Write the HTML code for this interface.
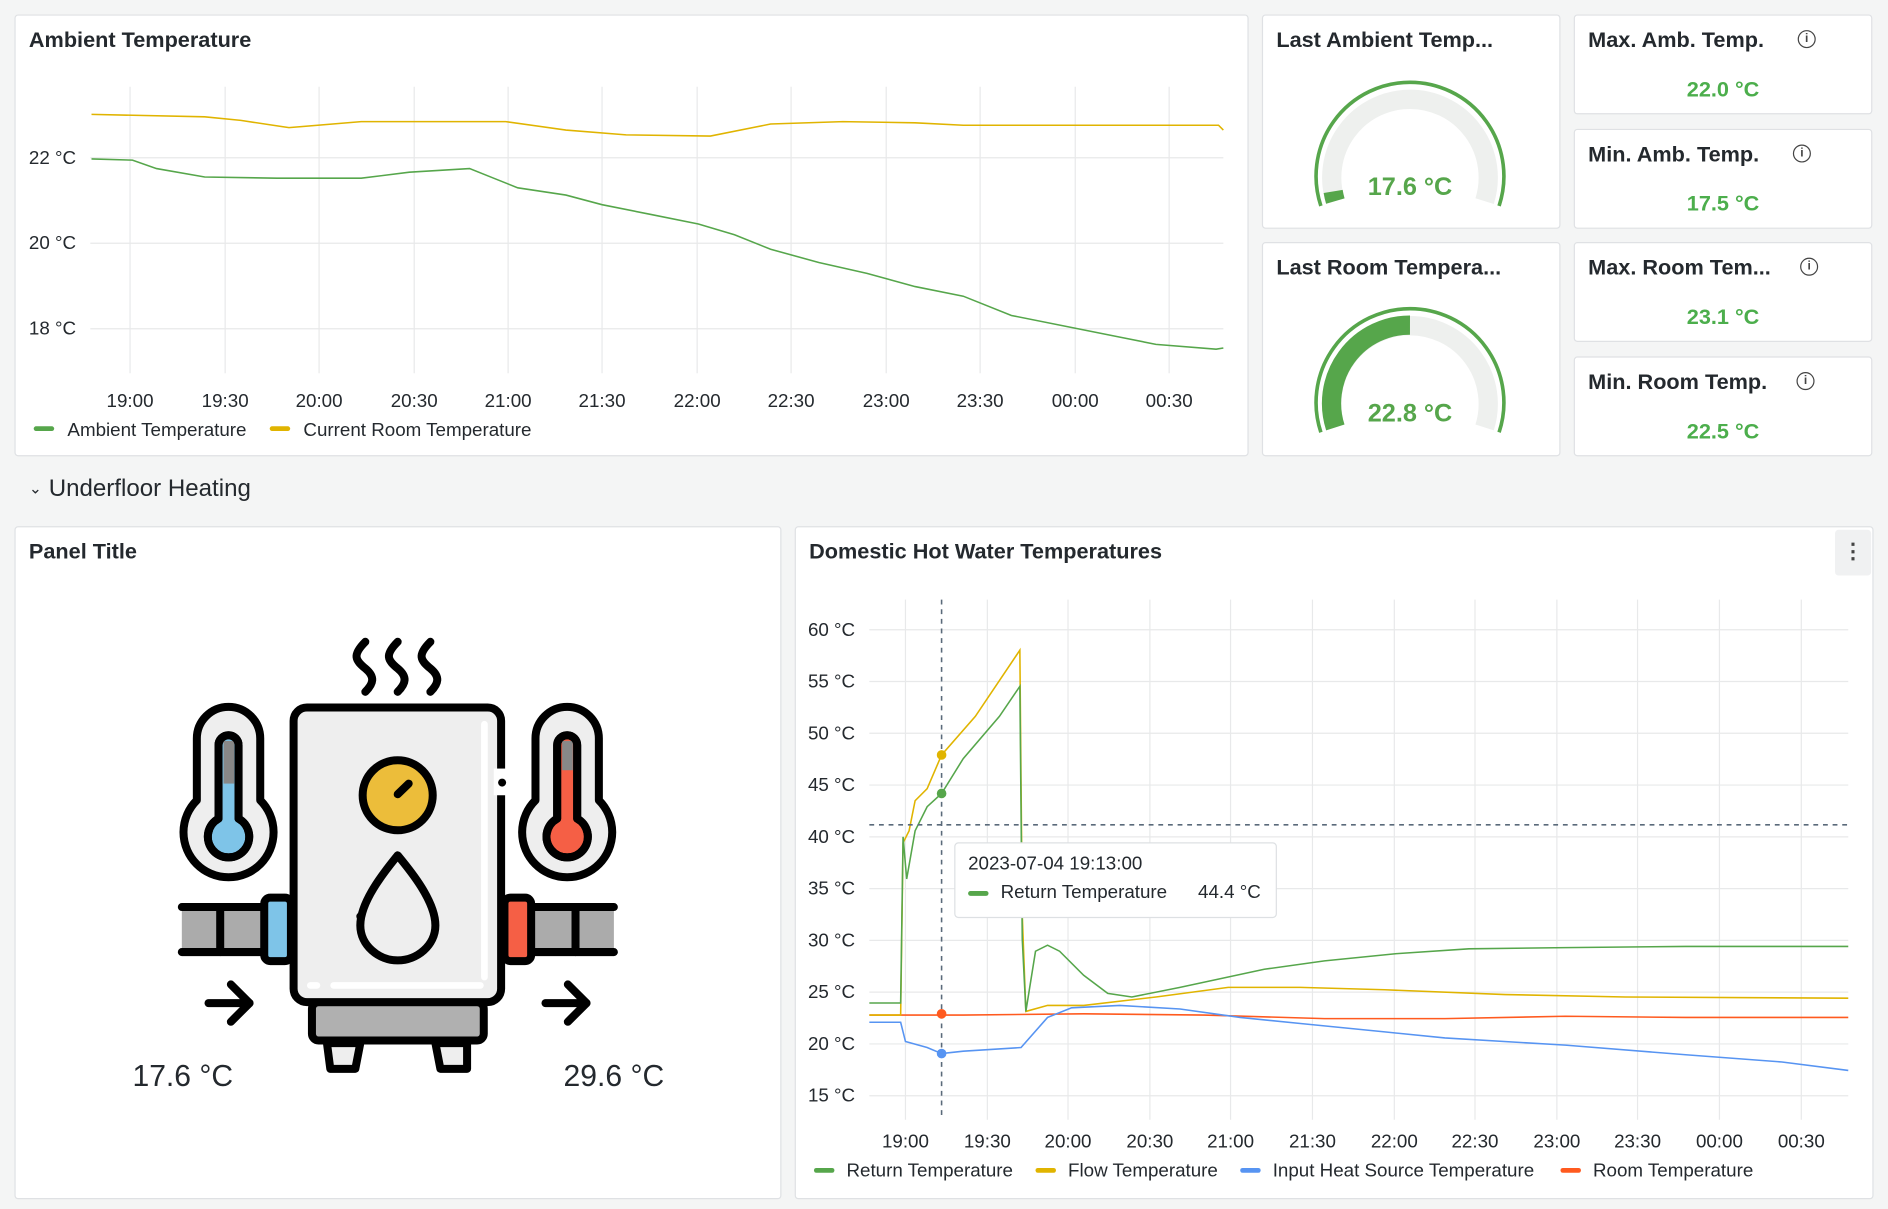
<!DOCTYPE html>
<html><head><meta charset="utf-8"><style>
html,body{margin:0;padding:0;background:#f4f5f5;overflow:hidden}
#root{position:absolute;left:0;top:0;width:1568px;height:1004px;transform:scale(1.20408);transform-origin:0 0;font-family:"Liberation Sans",sans-serif;color:#24292e}
.p{position:absolute;background:#fff;border:1px solid #dfe1e4;border-radius:3px;box-sizing:border-box}
.t{position:absolute;left:11px;top:10px;font-size:18px;font-weight:bold;color:#24292e;white-space:nowrap}
.v{position:absolute;left:0;right:0;text-align:center;color:#4cae4c;font-size:18px;font-weight:bold}
.i{position:absolute;width:13px;height:13px;border:1.5px solid #444;border-radius:50%;font-size:10px;line-height:13px;text-align:center;font-weight:bold;color:#444}
svg text{font-family:"Liberation Sans",sans-serif}
</style></head><body><div id="root">

<div class="p" style="left:12px;top:12px;width:1025px;height:367px"><div class="t">Ambient Temperature</div></div>
<svg style="position:absolute;left:0;top:0" width="1568" height="1004">
<g stroke="#e8e9ea" stroke-width="1">
<line x1="75" y1="131" x2="1016" y2="131"/><line x1="75" y1="202" x2="1016" y2="202"/><line x1="75" y1="273" x2="1016" y2="273"/>
<line x1="108" y1="72" x2="108" y2="310"/><line x1="187" y1="72" x2="187" y2="310"/><line x1="265" y1="72" x2="265" y2="310"/><line x1="344" y1="72" x2="344" y2="310"/><line x1="422" y1="72" x2="422" y2="310"/><line x1="500" y1="72" x2="500" y2="310"/><line x1="579" y1="72" x2="579" y2="310"/><line x1="657" y1="72" x2="657" y2="310"/><line x1="736" y1="72" x2="736" y2="310"/><line x1="814" y1="72" x2="814" y2="310"/><line x1="893" y1="72" x2="893" y2="310"/><line x1="971" y1="72" x2="971" y2="310"/>
</g>
<g font-size="15.6" fill="#24292e">
<text x="24" y="136">22 °C</text><text x="24" y="207">20 °C</text><text x="24" y="278">18 °C</text>
<g text-anchor="middle"><text x="108" y="338">19:00</text><text x="187" y="338">19:30</text><text x="265" y="338">20:00</text><text x="344" y="338">20:30</text><text x="422" y="338">21:00</text><text x="500" y="338">21:30</text><text x="579" y="338">22:00</text><text x="657" y="338">22:30</text><text x="736" y="338">23:00</text><text x="814" y="338">23:30</text><text x="893" y="338">00:00</text><text x="971" y="338">00:30</text></g>
<text x="56" y="362">Ambient Temperature</text><text x="252" y="362">Current Room Temperature</text>
</g>
<rect x="28" y="354" width="17" height="4" rx="2" fill="#56a64b"/><rect x="224" y="354" width="17" height="4" rx="2" fill="#e0b400"/>
<polyline fill="none" stroke="#e0b400" stroke-width="1.3" points="76,95 170,97 200,100 240,106 300,101 420,101 470,108 520,112 590,113 640,103 700,101 760,102 800,104 1012,104 1016,108"/>
<polyline fill="none" stroke="#56a64b" stroke-width="1.3" points="76,132 110,133 130,140 170,147 230,148 300,148 340,143 390,140 410,148 430,156 470,162 500,170 540,178 580,186 610,195 640,207 680,218 720,227 760,238 800,246 840,262 890,272 930,280 960,286 1010,290 1016,289"/>
</svg>

<div class="p" style="left:1048px;top:12px;width:248px;height:178px"><div class="t">Last Ambient Temp...</div></div>
<div class="p" style="left:1048px;top:201px;width:248px;height:178px"><div class="t">Last Room Tempera...</div></div>
<svg style="position:absolute;left:1048px;top:12px" width="248" height="370">
<g transform="translate(123,135)">
<path d="M-74,24 A78,78 0 1 1 74,24" fill="none" stroke="#56a64b" stroke-width="3"/>
<path d="M-62,20 A65,65 0 1 1 62,20" fill="none" stroke="#eef0ee" stroke-width="16"/>
<path d="M-62,20 A65,65 0 0 1 -63.8,12" fill="none" stroke="#56a64b" stroke-width="16"/>
<text x="0" y="15" text-anchor="middle" font-size="21" font-weight="bold" fill="#56a64b">17.6 °C</text>
</g>
<g transform="translate(123,323)">
<path d="M-74,24 A78,78 0 1 1 74,24" fill="none" stroke="#56a64b" stroke-width="3"/>
<path d="M-62,20 A65,65 0 1 1 62,20" fill="none" stroke="#eef0ee" stroke-width="16"/>
<path d="M-62,20 A65,65 0 0 1 0,-65" fill="none" stroke="#56a64b" stroke-width="16"/>
<text x="0" y="15" text-anchor="middle" font-size="21" font-weight="bold" fill="#56a64b">22.8 °C</text>
</g>
</svg>

<div class="p" style="left:1307px;top:12px;width:248px;height:83px"><div class="t">Max. Amb. Temp.</div><div class="i" style="left:185px;top:12px">i</div><div class="v" style="top:51px">22.0 °C</div></div>
<div class="p" style="left:1307px;top:107px;width:248px;height:83px"><div class="t">Min. Amb. Temp.</div><div class="i" style="left:181px;top:12px">i</div><div class="v" style="top:51px">17.5 °C</div></div>
<div class="p" style="left:1307px;top:201px;width:248px;height:83px"><div class="t">Max. Room Tem...</div><div class="i" style="left:187px;top:12px">i</div><div class="v" style="top:51px">23.1 °C</div></div>
<div class="p" style="left:1307px;top:296px;width:248px;height:83px"><div class="t">Min. Room Temp.</div><div class="i" style="left:184px;top:12px">i</div><div class="v" style="top:51px">22.5 °C</div></div>

<div style="position:absolute;left:24px;top:395px;font-size:20px;color:#24292e"><span style="font-size:13px;position:relative;top:-2px">&#8964;</span> Underfloor Heating</div>

<div class="p" style="left:12px;top:437px;width:637px;height:559px"><div class="t">Panel Title</div>
<div style="position:absolute;left:97px;top:442px;font-size:25px">17.6 °C</div>
<div style="position:absolute;left:455px;top:442px;font-size:25px">29.6 °C</div>
</div>
<svg style="position:absolute;left:133px;top:515px" width="399" height="399" viewBox="0 0 1440 1440">
<g stroke="#000" stroke-width="24" stroke-linecap="round" stroke-linejoin="round">
<g fill="none"><path d="M615,65 c-40,40 -30,55 0,80 s25,45 0,70"/><path d="M712,65 c-40,40 -30,55 0,80 s25,45 0,70"/><path d="M810,65 c-40,40 -30,55 0,80 s25,45 0,70"/></g>
<rect x="65" y="860" width="245" height="135" fill="#ababab" stroke="none"/>
<line x1="65" y1="860" x2="310" y2="860"/><line x1="65" y1="995" x2="310" y2="995"/><line x1="180" y1="860" x2="180" y2="995"/>
<rect x="1110" y="860" width="250" height="135" fill="#ababab" stroke="none"/>
<line x1="1110" y1="860" x2="1360" y2="860"/><line x1="1110" y1="995" x2="1360" y2="995"/><line x1="1245" y1="860" x2="1245" y2="995"/>
<rect x="312" y="832" width="80" height="190" rx="18" fill="#7ec4e8"/>
<rect x="1032" y="832" width="80" height="190" rx="18" fill="#f55f45"/>
<path d="M110,355 a95,95 0 0 1 190,0 v185 a135,135 0 1 1 -190,0 z" fill="#eee"/>
<path d="M1125,355 a95,95 0 0 1 190,0 v185 a135,135 0 1 1 -190,0 z" fill="#eee"/>
<path d="M175,375 a30,30 0 0 1 60,0 v220 a62,62 0 1 1 -60,0 z" fill="#7ec4e8"/>
<path d="M1190,375 a30,30 0 0 1 60,0 v220 a62,62 0 1 1 -60,0 z" fill="#f55f45"/>
<rect x="190" y="362" width="32" height="128" fill="#888" stroke="none"/>
<rect x="1205" y="362" width="32" height="88" fill="#888" stroke="none"/>
<path d="M175,375 a30,30 0 0 1 60,0 v220 a62,62 0 1 1 -60,0 z" fill="none"/>
<path d="M1190,375 a30,30 0 0 1 60,0 v220 a62,62 0 1 1 -60,0 z" fill="none"/>
<rect x="455" y="1145" width="515" height="115" rx="20" fill="#b0b0b0"/>
<path d="M500,1268 h100 l-15,77 h-75 z" fill="#eee"/><path d="M825,1268 h95 v77 h-80 z" fill="#eee"/>
<rect x="400" y="262" width="622" height="883" rx="40" fill="#eee"/>
<circle cx="712" cy="525" r="105" fill="#ecbd3a"/>
<line x1="712" y1="522" x2="745" y2="490"/>
<path d="M712,705 C680,745 600,840 600,915 C600,975 655,1020 712,1020 C770,1020 825,975 825,915 C825,840 745,745 712,705 Z" fill="none"/>
<line x1="145" y1="1148" x2="268" y2="1148"/><polyline points="212,1092 268,1148 212,1204" fill="none"/>
<line x1="1155" y1="1148" x2="1278" y2="1148"/><polyline points="1222,1092 1278,1148 1222,1204" fill="none"/>
</g>
<g stroke="#fff" stroke-width="20" stroke-linecap="round"><line x1="972" y1="312" x2="972" y2="1070"/><line x1="520" y1="1095" x2="960" y2="1095"/><line x1="450" y1="1095" x2="470" y2="1095"/></g>
<rect x="1000" y="445" width="50" height="80" fill="#fff"/>
<circle cx="1025" cy="487" r="12"/><circle cx="600" cy="888" r="12"/>
</svg>

<div class="p" style="left:660px;top:437px;width:896px;height:559px"><div class="t">Domestic Hot Water Temperatures</div>
<div style="position:absolute;left:863px;top:2px;width:30px;height:38px;background:#f0f1f2;border-radius:3px;text-align:center;line-height:36px;font-weight:bold;font-size:18px;color:#444">&#8942;</div></div>
<svg style="position:absolute;left:0;top:0" width="1568" height="1004">
<g stroke="#e8e9ea" stroke-width="1">
<line x1="722" y1="523" x2="1535" y2="523"/><line x1="722" y1="566" x2="1535" y2="566"/><line x1="722" y1="609" x2="1535" y2="609"/><line x1="722" y1="652" x2="1535" y2="652"/><line x1="722" y1="695" x2="1535" y2="695"/><line x1="722" y1="738" x2="1535" y2="738"/><line x1="722" y1="781" x2="1535" y2="781"/><line x1="722" y1="824" x2="1535" y2="824"/><line x1="722" y1="867" x2="1535" y2="867"/><line x1="722" y1="910" x2="1535" y2="910"/>
<line x1="752" y1="498" x2="752" y2="930"/><line x1="820" y1="498" x2="820" y2="930"/><line x1="887" y1="498" x2="887" y2="930"/><line x1="955" y1="498" x2="955" y2="930"/><line x1="1022" y1="498" x2="1022" y2="930"/><line x1="1090" y1="498" x2="1090" y2="930"/><line x1="1158" y1="498" x2="1158" y2="930"/><line x1="1225" y1="498" x2="1225" y2="930"/><line x1="1293" y1="498" x2="1293" y2="930"/><line x1="1360" y1="498" x2="1360" y2="930"/><line x1="1428" y1="498" x2="1428" y2="930"/><line x1="1496" y1="498" x2="1496" y2="930"/>
</g>
<g font-size="15.6" fill="#24292e">
<text x="671" y="528">60 °C</text><text x="671" y="571">55 °C</text><text x="671" y="614">50 °C</text><text x="671" y="657">45 °C</text><text x="671" y="700">40 °C</text><text x="671" y="743">35 °C</text><text x="671" y="786">30 °C</text><text x="671" y="829">25 °C</text><text x="671" y="872">20 °C</text><text x="671" y="915">15 °C</text>
<g text-anchor="middle"><text x="752" y="953">19:00</text><text x="820" y="953">19:30</text><text x="887" y="953">20:00</text><text x="955" y="953">20:30</text><text x="1022" y="953">21:00</text><text x="1090" y="953">21:30</text><text x="1158" y="953">22:00</text><text x="1225" y="953">22:30</text><text x="1293" y="953">23:00</text><text x="1360" y="953">23:30</text><text x="1428" y="953">00:00</text><text x="1496" y="953">00:30</text></g>
<text x="703" y="977">Return Temperature</text><text x="887" y="977">Flow Temperature</text><text x="1057" y="977">Input Heat Source Temperature</text><text x="1323" y="977">Room Temperature</text>
</g>
<rect x="676" y="970" width="17" height="4" rx="2" fill="#56a64b"/><rect x="860" y="970" width="17" height="4" rx="2" fill="#e0b400"/><rect x="1030" y="970" width="17" height="4" rx="2" fill="#5794f2"/><rect x="1296" y="970" width="17" height="4" rx="2" fill="#ff5a1f"/>
<polyline fill="none" stroke="#ff5a1f" stroke-width="1.3" points="722,843 800,843 900,842 1000,843 1100,846 1200,846 1300,844 1400,845 1535,845"/>
<polyline fill="none" stroke="#5794f2" stroke-width="1.3" points="722,849 748,849 752,865 770,870 782,875 800,873 848,870 870,845 890,837 930,835 980,838 1030,845 1080,850 1150,857 1200,862 1300,868 1400,876 1480,882 1535,889"/>
<polyline fill="none" stroke="#e0b400" stroke-width="1.3" points="722,843 748,843 750,700 755,690 760,665 770,655 782,627 810,595 847,540 849,760 852,840 870,835 900,835 960,828 1020,820 1080,820 1150,822 1250,826 1350,828 1535,829"/>
<polyline fill="none" stroke="#56a64b" stroke-width="1.3" points="722,833 748,833 750,695 753,730 760,690 770,670 782,659 800,630 830,595 847,570 849,780 852,840 860,790 870,785 880,790 900,810 920,825 940,828 980,820 1050,805 1100,798 1160,792 1220,788 1300,787 1400,786 1535,786"/>
<g stroke="#5a6a7a" stroke-width="1.3" stroke-dasharray="4,4"><line x1="782" y1="498" x2="782" y2="930"/><line x1="722" y1="685" x2="1535" y2="685"/></g>
<circle cx="782" cy="627" r="4" fill="#e0b400"/><circle cx="782" cy="659" r="4" fill="#56a64b"/><circle cx="782" cy="842" r="4" fill="#ff5a1f"/><circle cx="782" cy="875" r="4" fill="#5794f2"/>
<rect x="793" y="700" width="267" height="62" rx="3" fill="#fff" stroke="#dde0e3"/>
<text x="804" y="722" font-size="15.6" fill="#24292e">2023-07-04 19:13:00</text>
<rect x="804" y="740" width="17" height="4" rx="2" fill="#56a64b"/>
<text x="831" y="746" font-size="15.6" fill="#24292e">Return Temperature</text><text x="995" y="746" font-size="15.6" fill="#24292e">44.4 °C</text>
</svg>
</div></body></html>
